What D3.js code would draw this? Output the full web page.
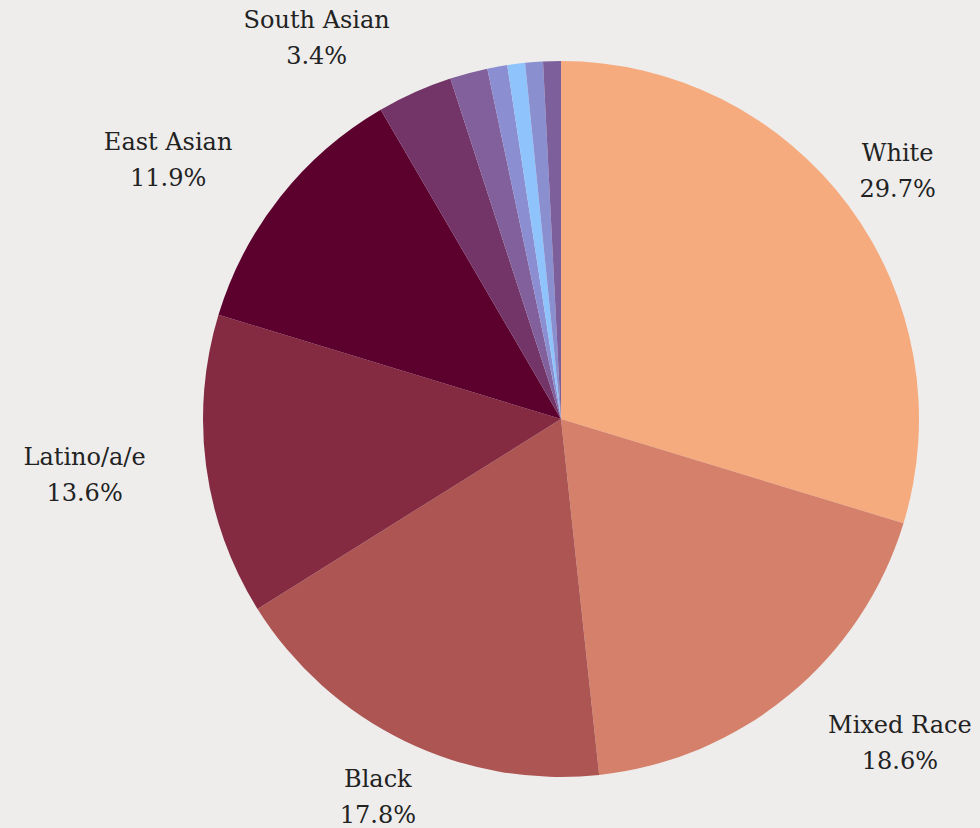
<!DOCTYPE html>
<html>
<head>
<meta charset="utf-8">
<script src="https://cdn.jsdelivr.net/npm/d3@7"></script>
<style>
  html, body { margin: 0; padding: 0; background: #eeedec; }
  #chart-container { width: 980px; height: 828px; }
</style>
</head>
<body>
<div id="chart-container"></div>
<script>
// Slices, clockwise from 12 o'clock (percent)
const categories = ["White", "Mixed Race", "Black", "Latino/a/e", "East Asian", "South Asian",
                    "Other 1", "Other 2", "Other 3", "Other 4", "Other 5"];
const values = [29.7, 18.6, 17.8, 13.6, 11.9, 3.4, 1.7, 0.9, 0.8, 0.8, 0.8];
const sliceColors = ["#f5ab7e", "#d4806a", "#ad5553", "#842a41", "#5c002e", "#733567",
                     "#82609c", "#8b8fd2", "#8fc3fb", "#8a8fcf", "#7c5f9b"];

document.addEventListener("DOMContentLoaded", function() {
    const width = 980;
    const height = 828;
    const cx = 561, cy = 419;
    const radius = 358;
    const labelRadius = 419;

    const data = categories.map((name, i) => ({ name, value: values[i] }));

    const color = d3.scaleOrdinal()
        .domain(categories)
        .range(sliceColors);

    const pie = d3.pie()
        .sort(null)
        .value(d => d.value);

    const arc = d3.arc()
        .innerRadius(0)
        .outerRadius(radius);

    const svg = d3.select("#chart-container").append("svg")
        .attr("width", width)
        .attr("height", height);

    const g = svg.append("g")
        .attr("transform", `translate(${cx},${cy})`);

    const arcs = pie(data);

    g.selectAll("path")
        .data(arcs)
        .enter().append("path")
        .attr("fill", d => color(d.data.name))
        .attr("d", arc);

    // labels only for the bigger slices
    const labelled = arcs.filter(d => d.data.value >= 3);

    const labels = g.selectAll(".label")
        .data(labelled)
        .enter().append("text")
        .attr("class", "label")
        .attr("font-family", "'DejaVu Serif', serif")
        .attr("font-size", 24)
        .attr("fill", "#222")
        .attr("text-anchor", "middle");

    labels.each(function(d) {
        const a = (d.startAngle + d.endAngle) / 2;
        const x = labelRadius * Math.sin(a);
        const y = -labelRadius * Math.cos(a);
        const t = d3.select(this);
        const l1 = t.append("tspan").attr("x", x).attr("y", y - 9).text(d.data.name);
        const l2 = t.append("tspan").attr("x", x).attr("y", y + 27).text(d.data.value.toFixed(1) + "%");

        // if a centered label comes too close to the pie, hang it off the side instead
        const bb = this.getBBox();
        const nx = Math.max(bb.x, Math.min(0, bb.x + bb.width));
        const ny = Math.max(bb.y, Math.min(0, bb.y + bb.height));
        if (Math.hypot(nx, ny) < radius + 8) {
            const mid = x > 0 ? x + bb.width / 2 : x - bb.width / 2;
            l1.attr("x", mid);
            l2.attr("x", mid);
        }
    });
});
</script>
</body>
</html>
